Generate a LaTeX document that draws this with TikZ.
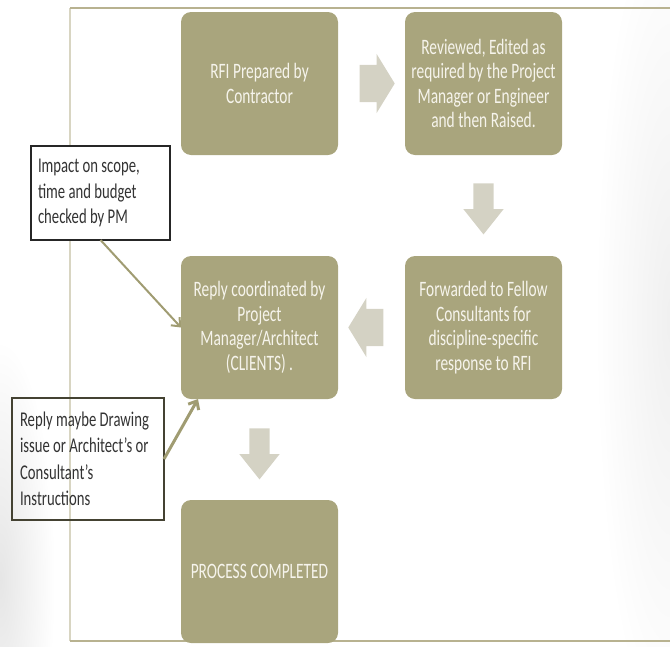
\documentclass[tikz,border=0pt]{standalone}
\usepackage{fontspec}
\setmainfont{Carlito}[FakeStretch=0.70]
\usetikzlibrary{positioning,arrows.meta,calc,shapes.arrows}
\definecolor{olivebox}{HTML}{A9A57D}
\definecolor{blockgrey}{HTML}{D4D2C4}
\definecolor{boxtext}{HTML}{F6F4EC}
\definecolor{frameline}{HTML}{B8B290}
\definecolor{linkolive}{HTML}{A09C72}

\begin{document}
\begin{tikzpicture}[x=1pt,y=-1pt,>={Straight Barb[length=7pt,width=12pt]},node distance=101pt and 67pt,
  stage/.style={rectangle,rounded corners=10pt,fill=olivebox,text=boxtext,minimum width=157pt,minimum height=143pt,
    inner sep=0pt,outer sep=0pt,align=center,font=\fontsize{22}{24.5}\selectfont},
  note/.style={rectangle,draw,line width=2pt,inner ysep=0pt,outer sep=0pt,align=flush left,text=black!80,
    font=\fontsize{21}{25.5}\selectfont},
  hblock/.style={single arrow,fill=blockgrey,inner xsep=0pt,inner ysep=18.5pt,minimum height=35pt,
    single arrow head extend=11pt,single arrow tip angle=117,outer sep=0pt},
  vblock/.style={single arrow,fill=blockgrey,inner xsep=0pt,inner ysep=10pt,minimum height=51pt,
    single arrow head extend=10pt,single arrow tip angle=77,rotate=-90,outer sep=0pt}]
\useasboundingbox (0,0) rectangle (670,646);
% page shading and frame
\begin{scope}
  \clip (0,0) rectangle (670,646);
  \shade[inner color=black!10,outer color=white] (0,580) ellipse (55 and 240);
  \shade[inner color=black!6,outer color=white] (670,320) ellipse (75 and 420);
\end{scope}
\draw[frameline!55,line width=1.2pt] (70,8) -- (70,641);
\draw[frameline,line width=1.2pt] (70,8) -- (670,8);
\draw[frameline,line width=1.5pt] (70,641) -- (670,641);

\node[stage] (rfi) at (259.5,83.5) {RFI Prepared by\\Contractor};
\node[stage] (review) [right=of rfi] {Reviewed, Edited as\\required by the Project\\Manager or Engineer\\and then Raised.};
\node[stage] (forward) [below=of review] {Forwarded to Fellow\\Consultants for\\discipline-specific\\response to RFI};
\node[stage] (reply) [left=of forward] {Reply coordinated by\\Project\\Manager/Architect\\(CLIENTS) .};
\node[stage] (done) [below=of reply] {PROCESS COMPLETED};

\node[hblock] (a1) at ($(rfi.east)!0.5!(review.west)$) {};
\node[vblock] (a2) at ($(review.south)!0.5!(forward.north)+(0,-3)$) {};
\node[hblock,rotate=180] (a3) at ($(forward.west)!0.5!(reply.east)$) {};
\node[vblock] (a4) at ($(reply.south)!0.5!(done.north)+(0,-2)$) {};

\node[note,draw=black!85,fill=white,text width=125pt,inner xsep=7pt,minimum height=94pt] (impact) at (100.5,193)
  {Impact on scope,\\time and budget\\checked by PM};
\node[note,draw=black!60!olivebox,text width=136pt,inner xsep=8pt,minimum height=122pt,
  font=\fontsize{21}{26.5}\selectfont] (maybe) at (88,459)
  {Reply maybe Drawing\\issue or Architect’s or\\Consultant’s\\Instructions};

\draw[->,linkolive,line width=2pt] (impact.south) -- (reply.west);
\draw[->,linkolive,line width=3pt] (maybe.east) -- ([xshift=17pt]reply.south west);
\end{tikzpicture}
\end{document}
